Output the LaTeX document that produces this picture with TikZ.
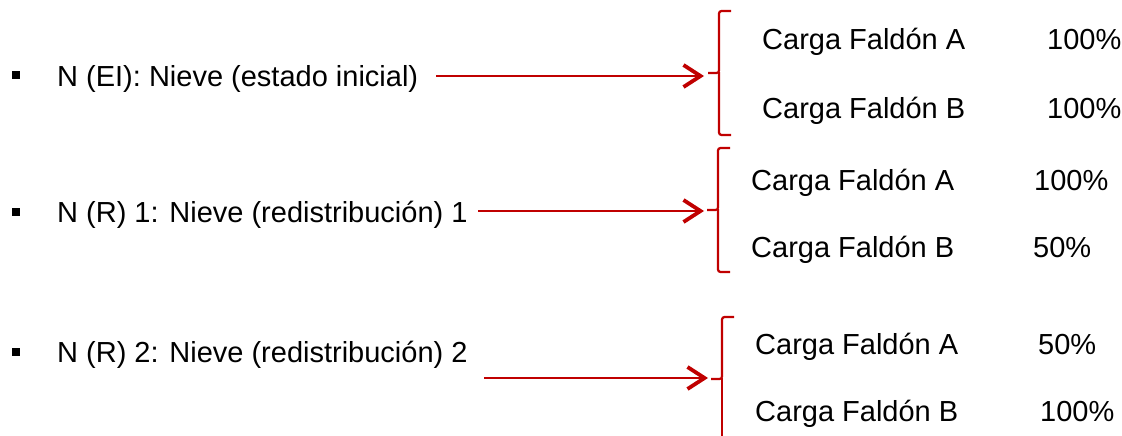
\documentclass[tikz,border=0pt]{standalone}
\usepackage{fontspec}
\setmainfont{Liberation Sans}
\usetikzlibrary{arrows.meta}
\definecolor{brred}{RGB}{192,0,0}
\tikzset{
  lbl/.style={anchor=base west, inner sep=0pt, font=\fontsize{29}{34}\selectfont},
  bul/.style={fill=black, inner sep=0pt, minimum size=8pt},
  arr/.style={draw=brred, line width=2.9pt, -{Straight Barb[length=17pt,width=22pt,line width=3.8pt]}},
  brc/.style={draw=brred, line width=2.2pt, rounded corners=2.5pt},
}
\begin{document}
\begin{tikzpicture}[x=1pt,y=-1pt]
\useasboundingbox (0,0) rectangle (1122,436);
% row 1
\node[bul] (b1) at (16,75) {};
\node[lbl] (t1) at (57,86) {N (EI): Nieve (estado inicial)};
\coordinate (s1) at (436,76);
\coordinate (e1) at (704,76);
\coordinate (n1) at (708,73);
\draw[brc] (731,11) -| (719,73) -- (n1);
\draw[brc] (719,72) |- (731,135);
\draw[arr] (s1) -- (e1);
\node[lbl] (a1) at (762,50) {Carga Faldón A};
\node[lbl] (p1) at (1047,50) {100\%};
\node[lbl] (c1) at (762,118) {Carga Faldón B};
\node[lbl] (q1) at (1047,118) {100\%};
% row 2
\node[bul] (b2) at (16,212) {};
\node[lbl] (t2) at (57,222) {N (R) 1: Nieve (redistribución) 1};
\coordinate (s2) at (478,211);
\coordinate (e2) at (704,211);
\coordinate (n2) at (707,210);
\draw[brc] (730,148) -| (718,210) -- (n2);
\draw[brc] (718,209) |- (730,272);
\draw[arr] (s2) -- (e2);
\node[lbl] (a2) at (751,190) {Carga Faldón A};
\node[lbl] (p2) at (1034,190) {100\%};
\node[lbl] (c2) at (751,257) {Carga Faldón B};
\node[lbl] (q2) at (1033,257) {50\%};
% row 3
\node[bul] (b3) at (16,352) {};
\node[lbl] (t3) at (57,362) {N (R) 2: Nieve (redistribución) 2};
\coordinate (s3) at (484,378);
\coordinate (e3) at (708,378);
\coordinate (n3) at (711,379);
\draw[brc] (734,317) -| (722,379) -- (n3);
\draw[brc] (722,378) -- (722,445);
\draw[arr] (s3) -- (e3);
\node[lbl] (a3) at (755,354) {Carga Faldón A};
\node[lbl] (p3) at (1038,354) {50\%};
\node[lbl] (c3) at (755,421) {Carga Faldón B};
\node[lbl] (q3) at (1040,421) {100\%};
\end{tikzpicture}
\end{document}
